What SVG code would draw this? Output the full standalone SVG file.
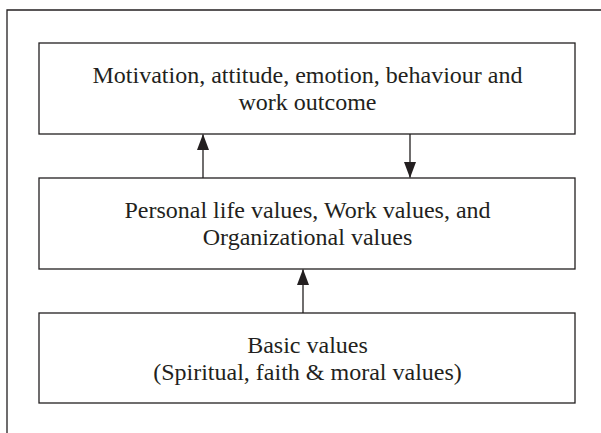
<svg xmlns="http://www.w3.org/2000/svg" width="601" height="433" viewBox="0 0 601 433">
  <style>
    .box { fill: #ffffff; stroke: #231f20; stroke-width: 1.3; }
    .frame { fill: none; stroke: #231f20; stroke-width: 1.3; }
    .lbl { font-family: "Liberation Serif", "Times New Roman", serif; font-size: 24px; fill: #231f20; text-anchor: middle; }
    .conn { stroke: #231f20; stroke-width: 1.3; fill: none; marker-end: url(#head); }
  </style>
  <defs>
    <marker id="head" viewBox="0 0 16 12" refX="15.5" refY="6" markerWidth="16" markerHeight="12" markerUnits="userSpaceOnUse" orient="auto">
      <path d="M0,0 L16,6 L0,12 Z" fill="#231f20"/>
    </marker>
  </defs>
  <rect width="601" height="433" fill="#ffffff"/>
  <!-- outer frame, running off the right and bottom edges -->
  <path class="frame" d="M7,440 L7,10 L610,10"/>

  <g id="outcome">
    <rect class="box" x="39" y="43" width="536" height="91"/>
    <text class="lbl" x="307.5" y="83">Motivation, attitude, emotion, behaviour and</text>
    <text class="lbl" x="307.5" y="110">work outcome</text>
  </g>
  <g id="values">
    <rect class="box" x="39" y="178" width="536" height="91"/>
    <text class="lbl" x="307.5" y="218">Personal life values, Work values, and</text>
    <text class="lbl" x="307.5" y="245">Organizational values</text>
  </g>
  <g id="basic">
    <rect class="box" x="39" y="313" width="536" height="90"/>
    <text class="lbl" x="307.5" y="353">Basic values</text>
    <text class="lbl" x="307.5" y="380">(Spiritual, faith &amp; moral values)</text>
  </g>

  <g id="connectors">
    <line class="conn" x1="203" y1="178" x2="203" y2="134.5"/>
    <line class="conn" x1="410" y1="134" x2="410" y2="177.5"/>
    <line class="conn" x1="303" y1="313" x2="303" y2="269.5"/>
  </g>
</svg>
